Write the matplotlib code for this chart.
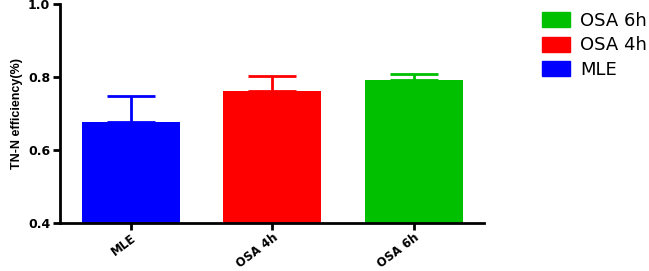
import matplotlib
matplotlib.use("Agg")
import matplotlib.pyplot as plt
from matplotlib.patches import Patch

categories = ["MLE", "OSA 4h", "OSA 6h"]
means = [0.678, 0.761, 0.791]
upper_err = [0.069, 0.043, 0.017]
colors = ["#0000FF", "#FF0000", "#00C000"]
yticks = [0.4, 0.6, 0.8, 1.0]

plt.rcParams['font.family'] = ['Liberation Sans', 'DejaVu Sans']

fig = plt.figure(figsize=(6.49, 2.71), dpi=100)
ax = fig.add_axes([0.0925, 0.177, 0.654, 0.808])

x = list(range(len(categories)))
for i in x:
    ax.bar(i, means[i] - 0.4, bottom=0.4, width=0.69, color=colors[i], zorder=2)
    ax.errorbar(i, means[i], yerr=[[0], [upper_err[i]]], color=colors[i],
                capsize=17, elinewidth=2, capthick=2, fmt='none', zorder=1)

ax.set_xlim(-0.5, 2.5)
ax.set_ylim(0.4, 1.0)
ax.set_yticks(yticks)
ax.set_yticklabels([f"{v:.1f}" for v in yticks], fontsize=9, fontweight='bold',
                   family='DejaVu Sans')
ax.set_xticks(x)
ax.set_xticklabels(categories, rotation=37, ha='right', rotation_mode='anchor',
                   fontsize=8.5, fontweight='bold', family='DejaVu Sans')
ax.set_ylabel("TN-N efficiency(%)", fontsize=9, fontweight='bold', labelpad=4)

for s in ['top', 'right']:
    ax.spines[s].set_visible(False)
for s in ['left', 'bottom']:
    ax.spines[s].set_linewidth(2)
ax.tick_params(axis='both', width=2, length=5, direction='out', pad=2)
ax.tick_params(axis='x', pad=1)

handles = [Patch(color=colors[2], label=categories[2]),
           Patch(color=colors[1], label=categories[1]),
           Patch(color=colors[0], label=categories[0])]
fig.legend(handles=handles, loc='upper left', bbox_to_anchor=(542 / 649, 1 - 12 / 271),
           frameon=False, prop={'family': 'DejaVu Sans', 'size': 13},
           handlelength=1.55, handleheight=0.89, borderpad=0,
           labelspacing=0.35, handletextpad=0.55, borderaxespad=0)

fig.savefig("out.png", dpi=100)
